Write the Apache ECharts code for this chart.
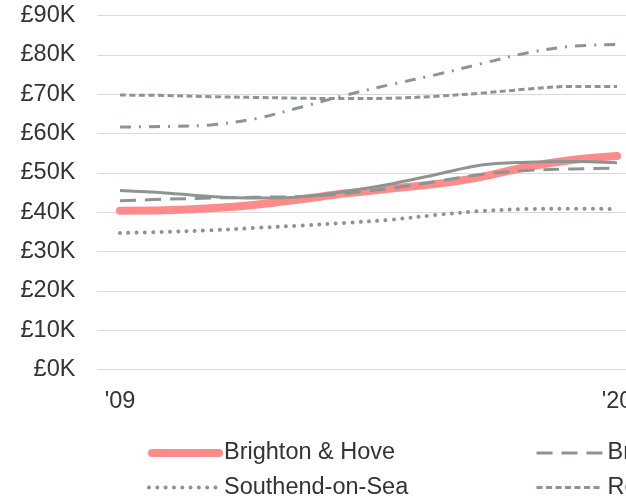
<!DOCTYPE html>
<html>
<head>
<meta charset="utf-8">
<script src="https://cdn.jsdelivr.net/npm/echarts@6/dist/echarts.min.js"></script>
<style>
html,body{margin:0;padding:0;overflow:hidden;background:#fff;}
#chart{width:700px;height:499px;}
</style>
</head>
<body>
<div id="chart"></div>
<script>
const years = ['2009','2010','2011','2012','2013','2014','2015','2016','2017','2018','2019','2020'];
const yTicks = [0,10000,20000,30000,40000,50000,60000,70000,80000,90000];
const brighton = [40400,40500,41000,41900,43300,44800,46000,47200,49000,51500,53300,54300];
const bristol = [42900,43300,43600,43800,44000,44800,46100,47800,49600,50600,51000,51200];
const southend = [34700,35000,35400,36000,36600,37300,38100,39300,40300,40800,40900,40800];
const reading = [69800,69700,69400,69200,69000,68900,69000,69500,70300,71300,72000,72000];
const miltonKeynes = [45500,44900,44000,43600,43900,45300,47200,49600,52000,52700,52900,52600];
const oxford = [61700,61800,62200,63800,66700,69800,72500,75000,77800,80500,82200,82700];

const GRAY = '#8c9590';
const PINK = '#ff8a8a';
const FONT = 'Liberation Sans, Arial, Helvetica, sans-serif';
const TXT = '#333333';

const styles = {
  'Brighton & Hove': { color: PINK, width: 8, type: 'solid', cap: 'round', z: 2 },
  'Southend-on-Sea': { color: GRAY, width: 4, type: [0.01, 8.3], cap: 'round', z: 3 },
  'Bristol': { color: GRAY, width: 3, type: [16, 9], cap: 'butt', z: 3 },
  'Reading': { color: GRAY, width: 3, type: [6, 3.5], cap: 'butt', z: 3 },
  'Milton Keynes': { color: GRAY, width: 3, type: 'solid', cap: 'butt', z: 3 },
  'Oxford': { color: GRAY, width: 3, type: [11, 8, 2, 8], cap: 'butt', z: 3 }
};

function mk(name, data) {
  const s = styles[name];
  return {
    name: name, type: 'line', data: data, smooth: 0.35, symbol: 'none',
    z: s.z,
    lineStyle: { color: s.color, width: s.width, type: s.type, cap: s.cap },
    itemStyle: { color: s.color },
    emphasis: { disabled: true }
  };
}

function lg(name, left, top, w) {
  const s = styles[name];
  return {
    data: [name], left: left, top: top, orient: 'horizontal', padding: 0,
    itemWidth: w, itemHeight: 14, selectedMode: false,
    itemStyle: { opacity: 0 },
    lineStyle: { color: s.color, width: s.width, type: s.type, cap: s.cap },
    textStyle: { fontSize: 23.5, color: TXT, fontFamily: FONT }
  };
}

const chart = echarts.init(document.getElementById('chart'), null, { renderer: 'canvas' });
chart.setOption({
  animation: false,
  textStyle: { fontFamily: FONT },
  grid: { left: 97.4, top: 15.7, width: 542.2, height: 353.7, containLabel: false },
  legend: [
    lg('Brighton & Hove', 148, 441, 67),
    lg('Southend-on-Sea', 147, 475.5, 70),
    lg('Bristol', 535, 441, 66),
    lg('Reading', 535, 475.5, 66),
    lg('Milton Keynes', 924, 441, 66),
    lg('Oxford', 924, 475.5, 66)
  ],
  xAxis: {
    type: 'category', data: years, boundaryGap: true,
    axisLine: { show: false }, axisTick: { show: false },
    axisLabel: {
      interval: function (i) { return i === 0 || i === years.length - 1; },
      formatter: function (v) { return "'" + v.slice(2); },
      fontSize: 23.5, color: TXT, margin: 20, fontFamily: FONT
    },
    splitLine: { show: false }
  },
  yAxis: {
    type: 'value', min: yTicks[0], max: yTicks[yTicks.length - 1], interval: 10000,
    axisLine: { show: false }, axisTick: { show: false },
    axisLabel: {
      formatter: function (v) { return '£' + (v / 1000) + 'K'; },
      fontSize: 23.5, color: TXT, margin: 22, fontFamily: FONT
    },
    splitLine: { lineStyle: { color: '#dadada', width: 1 } }
  },
  series: [
    mk('Brighton & Hove', brighton),
    mk('Southend-on-Sea', southend),
    mk('Bristol', bristol),
    mk('Reading', reading),
    mk('Milton Keynes', miltonKeynes),
    mk('Oxford', oxford)
  ]
});
</script>
</body>
</html>
